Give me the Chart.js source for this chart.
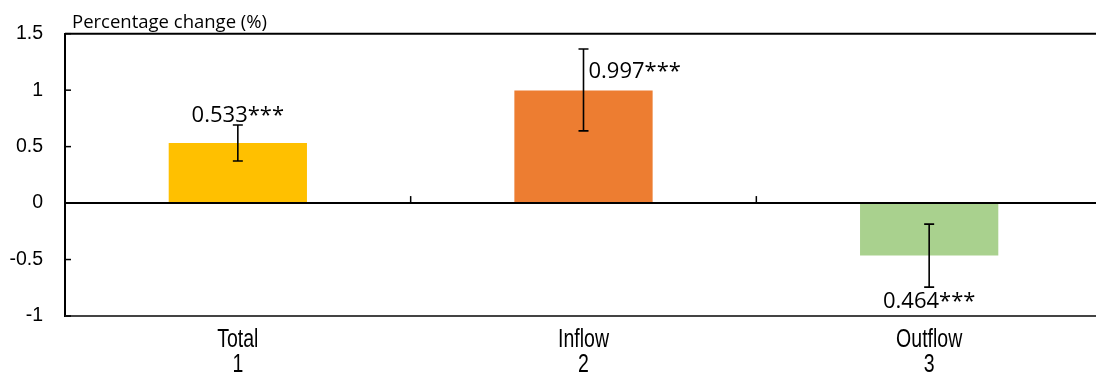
<!DOCTYPE html>
<html>
<head>
<meta charset="utf-8">
<script src="https://cdn.jsdelivr.net/npm/chart.js@4.4.1/dist/chart.umd.min.js"></script>
<style>
    html, body { margin: 0; padding: 0; background: #fff; overflow: hidden; }
    #wrap { width: 1102px; height: 374px; position: relative; }
</style>
</head>
<body>
<div id="wrap"><canvas id="effectChart"></canvas></div>
<script>
// Datos del gráfico
const categories = ['Total', 'Inflow', 'Outflow'];
const categoryNumbers = ['1', '2', '3'];
const estimates = [0.533, 0.997, -0.464];
const ciLow = [0.372, 0.639, -0.744];
const ciHigh = [0.692, 1.365, -0.186];
const valueLabels = ['0.533***', '0.997***', '0.464***'];
const yTicks = [-1, -0.5, 0, 0.5, 1, 1.5];
const barColors = ['#FFC000', '#ED7D31', '#A9D18E'];
const axisTitle = 'Percentage change (%)';

// Marco, línea cero, marcas de ejes, barras de error y textos
const framePlugin = {
    id: 'frame',
    afterDatasetsDraw(chart) {
        const ctx = chart.ctx;
        const area = chart.chartArea;
        const x = chart.scales.x;
        const y = chart.scales.y;
        ctx.save();
        ctx.strokeStyle = '#000';

        // zero line
        ctx.lineWidth = 2;
        const y0 = y.getPixelForValue(0);
        ctx.beginPath();
        ctx.moveTo(area.left, y0);
        ctx.lineTo(area.right, y0);
        ctx.stroke();

        // top and bottom edges
        const yTop = y.getPixelForValue(yTicks[yTicks.length - 1]);
        ctx.beginPath();
        ctx.moveTo(area.left, yTop);
        ctx.lineTo(area.right, yTop);
        ctx.stroke();
        ctx.strokeStyle = '#444';
        const yBot = y.getPixelForValue(yTicks[0]);
        ctx.beginPath();
        ctx.moveTo(area.left, yBot);
        ctx.lineTo(area.right, yBot);
        ctx.stroke();

        // inward y ticks
        ctx.strokeStyle = '#000';
        ctx.lineWidth = 1.5;
        yTicks.forEach(function(v) {
            const py = y.getPixelForValue(v);
            ctx.beginPath();
            ctx.moveTo(area.left, py);
            ctx.lineTo(area.left + 6, py);
            ctx.stroke();
        });

        // category boundary ticks on the zero line
        for (let i = 1; i < categories.length; i++) {
            const px = (x.getPixelForValue(i - 1) + x.getPixelForValue(i)) / 2;
            ctx.beginPath();
            ctx.moveTo(px, y0);
            ctx.lineTo(px, y0 - 7);
            ctx.stroke();
        }

        // error bars
        ctx.lineWidth = 1.6;
        estimates.forEach(function(v, i) {
            const px = x.getPixelForValue(i);
            const top = y.getPixelForValue(ciHigh[i]);
            const bot = y.getPixelForValue(ciLow[i]);
            ctx.beginPath();
            ctx.moveTo(px, top);
            ctx.lineTo(px, bot);
            ctx.moveTo(px - 5, top);
            ctx.lineTo(px + 5, top);
            ctx.moveTo(px - 5, bot);
            ctx.lineTo(px + 5, bot);
            ctx.stroke();
        });

        // value labels
        ctx.fillStyle = '#000';
        ctx.font = '22px "Open Sans", sans-serif';
        ctx.textBaseline = 'alphabetic';
        estimates.forEach(function(v, i) {
            const px = x.getPixelForValue(i);
            if (i === 1) {
                ctx.textAlign = 'left';
                const mid = (y.getPixelForValue(ciHigh[i]) + y.getPixelForValue(v)) / 2;
                ctx.fillText(valueLabels[i], px + 5, mid + 8);
            } else if (v >= 0) {
                ctx.textAlign = 'center';
                ctx.fillText(valueLabels[i], px, y.getPixelForValue(ciHigh[i]) - 3);
            } else {
                ctx.textAlign = 'center';
                ctx.fillText(valueLabels[i], px, y.getPixelForValue(ciLow[i]) + 21);
            }
        });

        // category labels (narrow, like the original)
        ctx.font = '26px "Liberation Sans", Arial, sans-serif';
        ctx.textAlign = 'center';
        categories.forEach(function(c, i) {
            const px = x.getPixelForValue(i);
            ctx.save();
            ctx.translate(px, 0);
            ctx.scale(0.75, 1);
            ctx.fillText(c, 0, area.bottom + 31);
            ctx.fillText(categoryNumbers[i], 0, area.bottom + 56);
            ctx.restore();
        });

        // axis title
        ctx.textAlign = 'left';
        ctx.font = '18.5px "Open Sans", sans-serif';
        ctx.fillText(axisTitle, area.left + 7, 28);
        ctx.restore();
    }
};

new Chart(document.getElementById('effectChart'), {
    type: 'bar',
    data: {
        labels: categories,
        datasets: [{
            data: estimates,
            backgroundColor: barColors,
            borderWidth: 0,
            categoryPercentage: 1,
            barPercentage: 0.4
        }]
    },
    options: {
        responsive: true,
        maintainAspectRatio: false,
        animation: false,
        layout: { padding: { top: 32, right: 0, left: 0, bottom: 0 } },
        plugins: {
            legend: { display: false },
            tooltip: { enabled: false }
        },
        scales: {
            x: {
                grid: { display: false },
                border: { display: false },
                afterFit: function(scale) { scale.height = 58; },
                ticks: { display: false }
            },
            y: {
                min: yTicks[0],
                max: yTicks[yTicks.length - 1],
                afterBuildTicks: function(scale) {
                    scale.ticks = yTicks.map(function(v) { return { value: v }; });
                },
                afterFit: function(scale) { scale.width = 65; },
                grid: { display: false, drawTicks: false },
                border: { display: true, color: '#000', width: 2 },
                ticks: {
                    color: '#000',
                    padding: 22,
                    font: { family: '"Liberation Sans", Arial, sans-serif', size: 19.5 },
                    callback: function(value) { return String(value); }
                }
            }
        }
    },
    plugins: [framePlugin]
});
</script>
</body>
</html>
